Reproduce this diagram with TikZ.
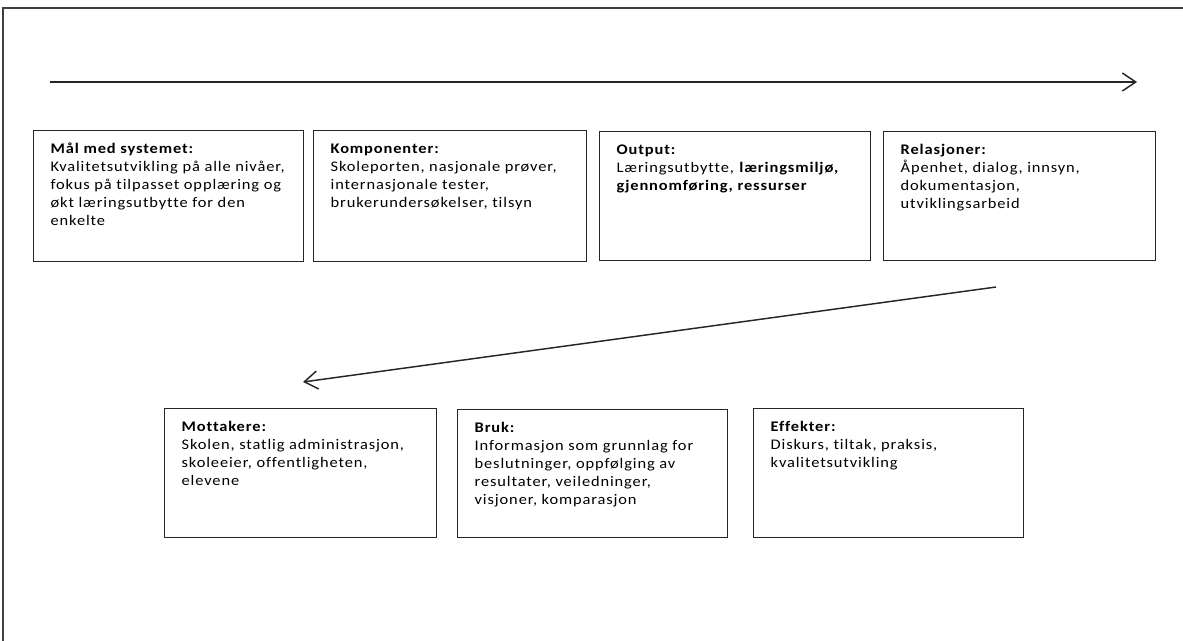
\documentclass[tikz,border=0pt]{standalone}
\usepackage{fontspec}
\setmainfont{Carlito}[FakeStretch=1.12,LetterSpace=6,Ligatures={NoCommon}]
\usetikzlibrary{arrows.meta}
\newlength{\pxu}
\setlength{\pxu}{0.75pt}
\newcommand{\bxtext}[4]{\begin{minipage}[t][#2\pxu][t]{#1\pxu}\fontsize{11pt}{13.5pt}\selectfont\leftskip=12.75pt\vspace*{7.6pt}\strut\textbf{#3}\\#4\end{minipage}}
\tikzset{
  box/.style={draw=black!85, line width=1pt, inner sep=0pt, anchor=north west},
  arr/.style={draw=black!85, line width=1.1pt, -{Straight Barb[length=10pt,width=13.5pt,line width=1.1pt]}},
  frame/.style={draw=black!75, line width=1.3pt}
}
\begin{document}
\begin{tikzpicture}[x=0.75pt,y=-0.75pt]
\useasboundingbox (0,0) rectangle (1183,640);
\draw[frame] (3,641) -- (3,8) -- (1184,8);
% top arrow
\coordinate (a1) at (50,82);
\coordinate (a2) at (1137,82);
\draw[arr] (a1) -- (a2);
% top row
\node[box] (b1) at (33,130) {\bxtext{270}{131}{Mål med systemet:}{Kvalitetsutvikling på alle nivåer,\\fokus på tilpasset opplæring og\\økt læringsutbytte for den\\enkelte}};
\node[box] (b2) at (313,130) {\bxtext{273}{131}{Komponenter:}{Skoleporten, nasjonale prøver,\\internasjonale tester,\\brukerundersøkelser, tilsyn}};
\node[box] (b3) at (599,131) {\bxtext{271}{129}{Output:}{Læringsutbytte, \textbf{læringsmiljø,}\\\textbf{gjennomføring, ressurser}}};
\node[box] (b4) at (883,131) {\bxtext{272}{129}{Relasjoner:}{Åpenhet, dialog, innsyn,\\dokumentasjon,\\utviklingsarbeid}};
% diagonal arrow
\coordinate (d1) at (996,287);
\coordinate (d2) at (303,382);
\draw[arr] (d1) -- (d2);
% bottom row
\node[box] (b5) at (164,408) {\bxtext{272}{129}{Mottakere:}{Skolen, statlig administrasjon,\\skoleeier, offentligheten,\\elevene}};
\node[box] (b6) at (457,409) {\bxtext{270}{128}{Bruk:}{Informasjon som grunnlag for\\beslutninger, oppfølging av\\resultater, veiledninger,\\visjoner, komparasjon}};
\node[box] (b7) at (753,408) {\bxtext{270}{129}{Effekter:}{Diskurs, tiltak, praksis,\\kvalitetsutvikling}};
\end{tikzpicture}
\end{document}
